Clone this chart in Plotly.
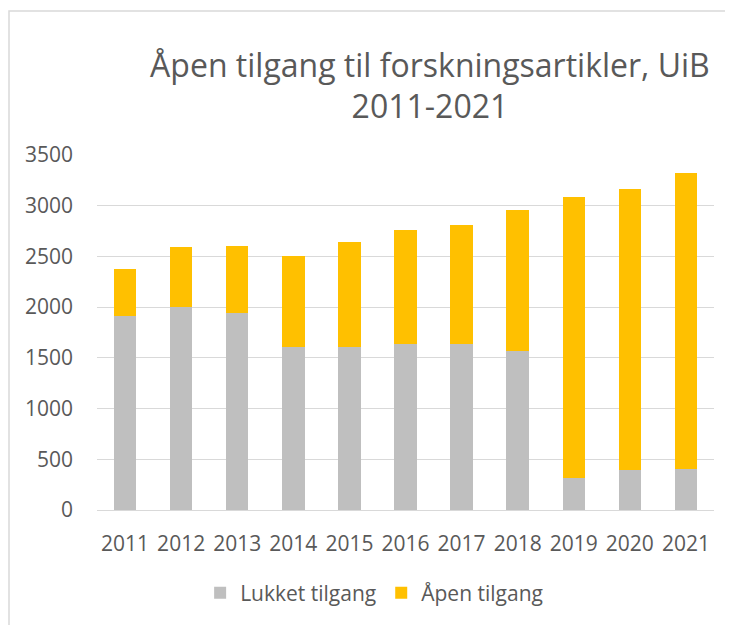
import plotly.graph_objects as go

years = ["2011", "2012", "2013", "2014", "2015", "2016", "2017", "2018", "2019", "2020", "2021"]
lukket = [1914, 2000, 1941, 1608, 1608, 1641, 1635, 1572, 319, 391, 401]
apen = [458, 592, 661, 895, 1037, 1115, 1177, 1385, 2770, 2773, 2924]
yticks = [0, 500, 1000, 1500, 2000, 2500, 3000, 3500]

txt = "#595959"
font = "Open Sans"

# the page body adds an 8px margin, so the figure is sized/offset to compensate
W, H = 725, 617
L, R, T, B = 89, 19, 147, 115
PW, PH = W - L - R, H - T - B

fig = go.Figure()
fig.add_trace(go.Bar(x=years, y=lukket, name="Lukket tilgang", marker_color="#BFBFBF",
                     marker_line_width=0))
fig.add_trace(go.Bar(x=years, y=apen, name="Åpen tilgang", marker_color="#FFC000",
                     marker_line_width=0))

fig.update_layout(
    width=W, height=H,
    barmode="stack", bargap=0.6,
    paper_bgcolor="white", plot_bgcolor="white",
    margin=dict(l=L, r=R, t=T, b=B, autoexpand=False),
    font=dict(family=font, color=txt, size=21),
    title=dict(text="Åpen tilgang til forskningsartikler, UiB<br>2011-2021",
               x=0.582, xanchor="center", y=0.8886, yanchor="top",
               font=dict(size=32, color=txt, family=font)),
    legend=dict(orientation="h", x=0.505, xanchor="center", xref="container",
                y=1 - 585 / H, yanchor="middle", yref="container",
                font=dict(size=21, color=txt), traceorder="normal"),
    showlegend=True,
)
fig.update_yaxes(range=[0, 3500], tickvals=yticks, showgrid=True, gridcolor="#D9D9D9",
                 gridwidth=1, zeroline=False, showline=False, ticklabelstandoff=23,
                 tickfont=dict(size=21, color=txt))
fig.update_xaxes(showline=True, linecolor="#D9D9D9", linewidth=1, ticks="",
                 ticklabelstandoff=15, tickfont=dict(size=21, color=txt))

fig.add_shape(type="rect", xref="paper", yref="paper",
              x0=(1 - L) / PW, x1=1.2, y0=-0.5, y1=1 + (T - 3) / PH,
              line=dict(color="#D9D9D9", width=1.5), fillcolor="rgba(0,0,0,0)", layer="below")

fig.write_html("out.html")
